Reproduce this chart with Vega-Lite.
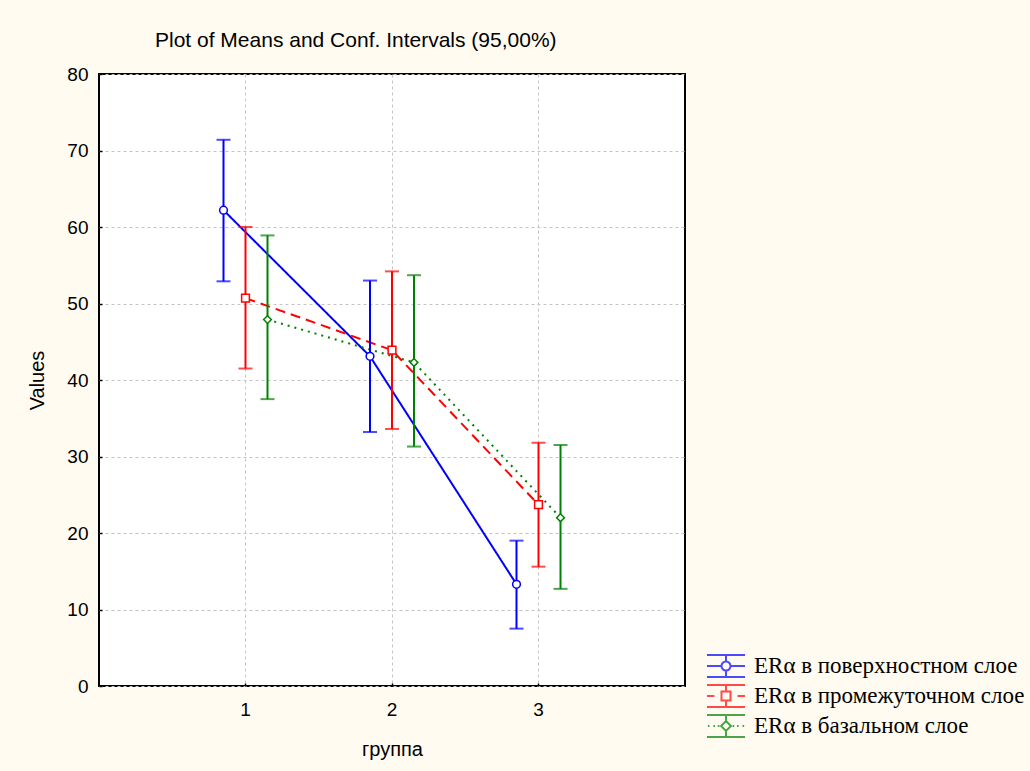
{
  "$schema": "https://vega.github.io/schema/vega-lite/v6.json",
  "width": 586,
  "height": 612,
  "autosize": "none",
  "padding": {"left": 99, "top": 74, "right": 345, "bottom": 85},
  "background": "#FFFBF0",
  "title": {
    "text": "Plot of Means and Conf. Intervals (95,00%)",
    "anchor": "start",
    "frame": "group",
    "dx": 56,
    "offset": 14,
    "font": "Liberation Sans",
    "fontSize": 21,
    "fontWeight": "normal",
    "color": "black"
  },
  "data": {
    "values": [
      {"grp": "1", "series": "ERα в поверхностном слое", "mean": 62.2, "lo": 52.9, "hi": 71.4},
      {"grp": "2", "series": "ERα в поверхностном слое", "mean": 43.1, "lo": 33.2, "hi": 53.0},
      {"grp": "3", "series": "ERα в поверхностном слое", "mean": 13.3, "lo": 7.5, "hi": 19.0},
      {"grp": "1", "series": "ERα в промежуточном слое", "mean": 50.7, "lo": 41.5, "hi": 60.0},
      {"grp": "2", "series": "ERα в промежуточном слое", "mean": 43.9, "lo": 33.6, "hi": 54.2},
      {"grp": "3", "series": "ERα в промежуточном слое", "mean": 23.7, "lo": 15.6, "hi": 31.8},
      {"grp": "1", "series": "ERα в базальном слое", "mean": 47.9, "lo": 37.5, "hi": 58.9},
      {"grp": "2", "series": "ERα в базальном слое", "mean": 42.3, "lo": 31.3, "hi": 53.7},
      {"grp": "3", "series": "ERα в базальном слое", "mean": 22.0, "lo": 12.7, "hi": 31.5}
    ]
  },
  "encoding": {
    "x": {
      "field": "grp",
      "type": "ordinal",
      "scale": {"domain": ["1", "2", "3"], "paddingInner": 0, "paddingOuter": 0.5},
      "axis": {
        "title": "группа",
        "labelAngle": 0,
        "grid": true,
        "gridDash": [3, 3],
        "gridColor": "#c4c4c4",
        "gridWidth": 1,
        "domain": false,
        "tickSize": -3,
        "tickColor": "black",
        "tickWidth": 1.5,
        "labelPadding": 17,
        "titlePadding": 20
      }
    },
    "y": {
      "field": "mean",
      "type": "quantitative",
      "scale": {"domain": [0, 80], "nice": false, "zero": false},
      "axis": {
        "title": "Values",
        "values": [0, 10, 20, 30, 40, 50, 60, 70, 80],
        "grid": true,
        "gridDash": [3, 3],
        "gridColor": "#c4c4c4",
        "gridWidth": 1,
        "domain": false,
        "tickSize": -3,
        "tickColor": "black",
        "tickWidth": 1.5,
        "labelPadding": 14,
        "titlePadding": 19
      }
    }
  },
  "layer": [
    {
      "layer": [
        {
          "mark": {"type": "line", "strokeWidth": 2},
          "encoding": {
            "xOffset": {"field": "series", "type": "nominal", "scale": {"domain": ["ERα в поверхностном слое", "ERα в промежуточном слое", "ERα в базальном слое"], "range": [40.25, 106.25], "paddingInner": 0, "paddingOuter": 0}},
            "color": {"field": "series", "type": "nominal", "legend": null, "scale": {"domain": ["ERα в поверхностном слое", "ERα в промежуточном слое", "ERα в базальном слое"], "range": ["#0000FF", "#FF0000", "#008000"]}},
            "strokeDash": {"field": "series", "type": "nominal", "legend": null, "scale": {"domain": ["ERα в поверхностном слое", "ERα в промежуточном слое", "ERα в базальном слое"], "range": [[1, 0], [10, 6], [2, 5]]}}
          }
        },
        {
          "mark": {"type": "rule", "strokeWidth": 2},
          "encoding": {
            "xOffset": {"field": "series", "type": "nominal"},
            "y": {"field": "lo", "type": "quantitative"},
            "y2": {"field": "hi"},
            "color": {"field": "series", "type": "nominal", "legend": null}
          }
        },
        {
          "mark": {"type": "tick", "size": 14, "thickness": 2},
          "encoding": {
            "xOffset": {"field": "series", "type": "nominal"},
            "y": {"field": "lo", "type": "quantitative"},
            "color": {"field": "series", "type": "nominal", "legend": null}
          }
        },
        {
          "mark": {"type": "tick", "size": 14, "thickness": 2},
          "encoding": {
            "xOffset": {"field": "series", "type": "nominal"},
            "y": {"field": "hi", "type": "quantitative"},
            "color": {"field": "series", "type": "nominal", "legend": null}
          }
        },
        {
          "mark": {"type": "point", "filled": false, "fill": "white", "size": 60, "strokeWidth": 1.5, "opacity": 1},
          "encoding": {
            "xOffset": {"field": "series", "type": "nominal"},
            "color": {"field": "series", "type": "nominal", "legend": null},
            "shape": {"field": "series", "type": "nominal", "legend": null, "scale": {"domain": ["ERα в поверхностном слое", "ERα в промежуточном слое", "ERα в базальном слое"], "range": ["circle", "square", "diamond"]}}
          }
        }
      ]
    },
    {
      "transform": [{"filter": "false"}],
      "mark": {"type": "point", "filled": false, "strokeWidth": 2},
      "encoding": {
        "color": {
          "field": "series",
          "type": "nominal",
          "scale": {"domain": ["ERα в поверхностном слое", "ERα в промежуточном слое", "ERα в базальном слое"], "range": ["#0000FF", "#FF0000", "#008000"]},
          "legend": {"title": null, "orient": "none", "legendX": 615, "legendY": 580}
        },
        "shape": {
          "field": "series",
          "type": "nominal",
          "scale": {
            "domain": ["ERα в поверхностном слое", "ERα в промежуточном слое", "ERα в базальном слое"],
            "range": [
              "M-1.73,-1H1.73M-1.73,1H1.73M0,-1V-0.41M0,0.41V1M-1.73,0H-0.41M0.41,0H1.73M0.41,0A0.41,0.41 0 1,1 -0.41,0A0.41,0.41 0 1,1 0.41,0Z",
              "M-1.73,-1H1.73M-1.73,1H1.73M0,-1V-0.41M0,0.41V1M-1.73,0H-1.05M1.05,0H1.73M-0.41,-0.41H0.41V0.41H-0.41Z",
              "M-1.73,-1H1.73M-1.73,1H1.73M0,-1V-0.45M0,0.45V1M-1.65,0H-1.5M-1.15,0H-1.0M-0.75,0H-0.6M0.6,0H0.75M1.0,0H1.15M1.5,0H1.65M0,-0.45L0.45,0L0,0.45L-0.45,0Z"
            ]
          },
          "legend": {"title": null, "orient": "none", "legendX": 615, "legendY": 580}
        }
      }
    }
  ],
  "resolve": {"scale": {"color": "independent", "shape": "independent"}},
  "config": {
    "view": {"fill": "white", "stroke": "black", "strokeWidth": 2},
    "axis": {
      "labelFont": "Liberation Sans",
      "labelFontSize": 19,
      "labelColor": "black",
      "titleFont": "Liberation Sans",
      "titleFontSize": 20,
      "titleFontWeight": "normal",
      "titleColor": "black"
    },
    "legend": {
      "labelFont": "Liberation Serif",
      "labelFontSize": 23,
      "labelColor": "black",
      "symbolSize": 484,
      "symbolStrokeWidth": 2,
      "rowPadding": 0,
      "labelOffset": 16,
      "padding": 0,
      "labelLimit": 600
    }
  }
}
